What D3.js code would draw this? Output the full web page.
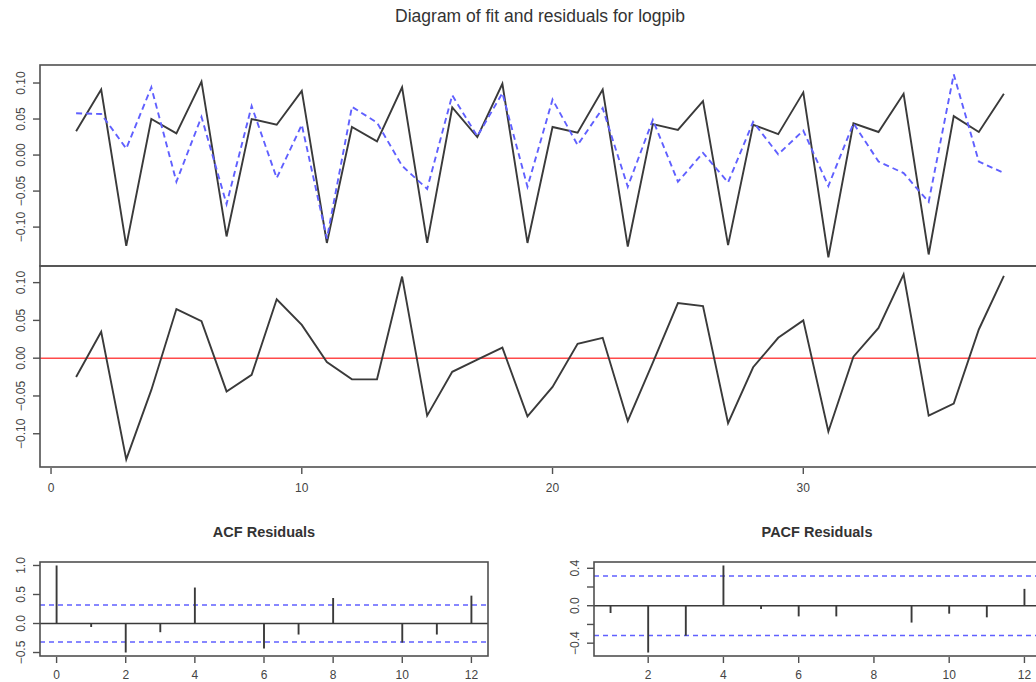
<!DOCTYPE html>
<html>
<head>
<meta charset="utf-8">
<script src="https://cdn.jsdelivr.net/npm/d3@7"></script>
<style>
  html, body { margin: 0; padding: 0; background: #ffffff; }
  svg { display: block; font-family: "Liberation Sans", Arial, sans-serif; }
</style>
</head>
<body>
<svg id="chart" width="1036" height="682"></svg>
<script>
// ---------- DATA ----------
const chartTitle = "Diagram of fit and residuals for logpib";
const periods = [1,2,3,4,5,6,7,8,9,10,11,12,13,14,15,16,17,18,19,20,21,22,23,24,25,26,27,28,29,30,31,32,33,34,35,36,37,38];
const actual = [0.033,0.091,-0.126,0.050,0.030,0.102,-0.113,0.050,0.042,0.089,-0.122,0.039,0.019,0.094,-0.122,0.066,0.025,0.099,-0.122,0.039,0.031,0.091,-0.127,0.043,0.035,0.075,-0.125,0.042,0.029,0.087,-0.142,0.044,0.032,0.085,-0.138,0.054,0.032,0.085];
const fitted = [0.058,0.057,0.009,0.094,-0.037,0.053,-0.068,0.068,-0.032,0.042,-0.116,0.067,0.045,-0.015,-0.047,0.083,0.026,0.086,-0.044,0.077,0.014,0.065,-0.044,0.049,-0.037,0.003,-0.038,0.046,0.001,0.034,-0.043,0.044,-0.009,-0.025,-0.065,0.112,-0.009,-0.025];
const residuals = [-0.025,0.035,-0.134,-0.042,0.065,0.049,-0.044,-0.022,0.078,0.044,-0.005,-0.028,-0.028,0.108,-0.076,-0.018,-0.002,0.014,-0.077,-0.038,0.019,0.027,-0.083,-0.006,0.073,0.069,-0.086,-0.012,0.027,0.050,-0.097,0.002,0.040,0.111,-0.076,-0.060,0.038,0.109];
const acfLags = [0,1,2,3,4,5,6,7,8,9,10,11,12];
const acfValues = [1.00,-0.06,-0.50,-0.15,0.62,0.00,-0.43,-0.19,0.44,0.00,-0.33,-0.19,0.48];
const pacfLags = [1,2,3,4,5,6,7,8,9,10,11,12];
const pacfValues = [-0.078,-0.50,-0.32,0.43,-0.035,-0.114,-0.114,0.007,-0.18,-0.085,-0.124,0.18];
const ciBound = 0.318;
const topTicks = [-0.10,-0.05,0.00,0.05,0.10];
const resTicks = [-0.10,-0.05,0.00,0.05,0.10];
const timeTicks = [0,10,20,30];
const acfYTicks = [-0.5,0.0,0.5,1.0];
const acfXTicks = [0,2,4,6,8,10,12];
const pacfYTicks = [-0.4,-0.2,0.0,0.2,0.4];
const pacfYLabels = [-0.4,0.0,0.4];
const pacfXTicks = [2,4,6,8,10,12];
const acfTitle = "ACF Residuals";
const pacfTitle = "PACF Residuals";

// ---------- STYLE ----------
const lineCol = "#3a3a3a";
const boxCol = "#505050";
const textCol = "#444444";
const blueCol = "#6060ff";
const redCol = "#ff4a4a";

const svg = d3.select("#chart");
svg.append("rect").attr("width",1036).attr("height",682).attr("fill","#fff");

// title
svg.append("text").attr("x",540).attr("y",22).attr("text-anchor","middle")
  .attr("font-size","17.5px").attr("fill","#333").text(chartTitle);

// shared x scale for time panels
const x = d3.scaleLinear().domain([-0.44, 39.44]).range([40, 1040]);
const yTop = d3.scaleLinear().domain([-0.154, 0.125]).range([266, 65]);
const yRes = d3.scaleLinear().domain([-0.144, 0.122]).range([467, 266]);

function box(g, x0, y0, x1, y1) {
  g.append("rect").attr("x",x0).attr("y",y0).attr("width",x1-x0).attr("height",y1-y0)
    .attr("fill","none").attr("stroke",boxCol).attr("stroke-width",1.6);
}

function yAxisR(scale, ticks, labels, xPos, fmt) {
  const g = svg.append("g");
  ticks.forEach(v => {
    g.append("line").attr("x1",xPos-7).attr("x2",xPos).attr("y1",scale(v)).attr("y2",scale(v))
      .attr("stroke",boxCol).attr("stroke-width",1.4);
  });
  labels.forEach(v => {
    const yy = scale(v);
    g.append("text").attr("transform",`translate(${xPos-19},${yy}) rotate(-90)`)
      .attr("text-anchor","middle").attr("font-size","12px").attr("fill",textCol)
      .attr("dy","0.35em").text(fmt(v));
  });
}

function xAxisR(scale, ticks, yPos, off) {
  const g = svg.append("g");
  ticks.forEach(v => {
    g.append("line").attr("x1",scale(v)).attr("x2",scale(v)).attr("y1",yPos+1).attr("y2",yPos+7)
      .attr("stroke",boxCol).attr("stroke-width",1.4);
    g.append("text").attr("x",scale(v)).attr("y",yPos+off).attr("dy","0.35em")
      .attr("text-anchor","middle").attr("font-size","12px").attr("fill",textCol).text(v);
  });
}

const f2 = d => d3.format(".2f")(d);
const f1 = d => d3.format(".1f")(d);

// ---- top panel: actual vs fitted ----
const gTop = svg.append("g");
const lineTop = d3.line().x((d,i) => x(periods[i])).y(d => yTop(d));
gTop.append("path").datum(actual).attr("d",lineTop).attr("fill","none")
  .attr("stroke",lineCol).attr("stroke-width",1.9).attr("stroke-linejoin","miter");
gTop.append("path").datum(fitted).attr("d",lineTop).attr("fill","none")
  .attr("stroke",blueCol).attr("stroke-width",1.9).attr("stroke-dasharray","6,4");
box(gTop, 40, 65, 1041, 266);
yAxisR(yTop, topTicks, topTicks, 40, f2);

// ---- residual panel ----
const gRes = svg.append("g");
gRes.append("line").attr("x1",40).attr("x2",1041).attr("y1",yRes(0)).attr("y2",yRes(0))
  .attr("stroke",redCol).attr("stroke-width",1.4);
const lineRes = d3.line().x((d,i) => x(periods[i])).y(d => yRes(d));
gRes.append("path").datum(residuals).attr("d",lineRes).attr("fill","none")
  .attr("stroke",lineCol).attr("stroke-width",1.9);
box(gRes, 40, 266, 1041, 467);
yAxisR(yRes, resTicks, resTicks, 40, f2);
xAxisR(x, timeTicks, 467, 21);

// ---- ACF panel ----
const xAcf = d3.scaleLinear().domain([-0.48, 12.48]).range([40, 488]);
const yAcf = d3.scaleLinear().domain([-0.56, 1.06]).range([656, 562]);
const gAcf = svg.append("g");
gAcf.append("text").attr("x",264).attr("y",532).attr("dy","0.35em").attr("text-anchor","middle")
  .attr("font-size","14.5px").attr("font-weight","bold").attr("fill","#333").text(acfTitle);
gAcf.append("line").attr("x1",40).attr("x2",488).attr("y1",yAcf(0)).attr("y2",yAcf(0))
  .attr("stroke",lineCol).attr("stroke-width",1.4);
[ciBound, -ciBound].forEach(c => {
  gAcf.append("line").attr("x1",40).attr("x2",488).attr("y1",yAcf(c)).attr("y2",yAcf(c))
    .attr("stroke",blueCol).attr("stroke-width",1.6).attr("stroke-dasharray","5,4");
});
gAcf.selectAll("line.spike").data(acfValues).enter().append("line").attr("class","spike")
  .attr("x1",(d,i)=>xAcf(acfLags[i])).attr("x2",(d,i)=>xAcf(acfLags[i]))
  .attr("y1",yAcf(0)).attr("y2",d=>yAcf(d))
  .attr("stroke",lineCol).attr("stroke-width",1.9);
box(gAcf, 40, 562, 488, 656);
yAxisR(yAcf, acfYTicks, acfYTicks, 40, f1);
xAxisR(xAcf, acfXTicks, 656, 19);

// ---- PACF panel ----
const xPacf = d3.scaleLinear().domain([0.56, 12.44]).range([594, 1041]);
const yPacf = d3.scaleLinear().domain([-0.537, 0.467]).range([656, 562]);
const gPacf = svg.append("g");
gPacf.append("text").attr("x",817).attr("y",532).attr("dy","0.35em").attr("text-anchor","middle")
  .attr("font-size","14.5px").attr("font-weight","bold").attr("fill","#333").text(pacfTitle);
gPacf.append("line").attr("x1",594).attr("x2",1041).attr("y1",yPacf(0)).attr("y2",yPacf(0))
  .attr("stroke",lineCol).attr("stroke-width",1.4);
[ciBound, -ciBound].forEach(c => {
  gPacf.append("line").attr("x1",594).attr("x2",1041).attr("y1",yPacf(c)).attr("y2",yPacf(c))
    .attr("stroke",blueCol).attr("stroke-width",1.6).attr("stroke-dasharray","5,4");
});
gPacf.selectAll("line.spike").data(pacfValues).enter().append("line").attr("class","spike")
  .attr("x1",(d,i)=>xPacf(pacfLags[i])).attr("x2",(d,i)=>xPacf(pacfLags[i]))
  .attr("y1",yPacf(0)).attr("y2",d=>yPacf(d))
  .attr("stroke",lineCol).attr("stroke-width",1.9);
box(gPacf, 594, 562, 1041, 656);
yAxisR(yPacf, pacfYTicks, pacfYLabels, 594, f1);
xAxisR(xPacf, pacfXTicks, 656, 19);
</script>
</body>
</html>
